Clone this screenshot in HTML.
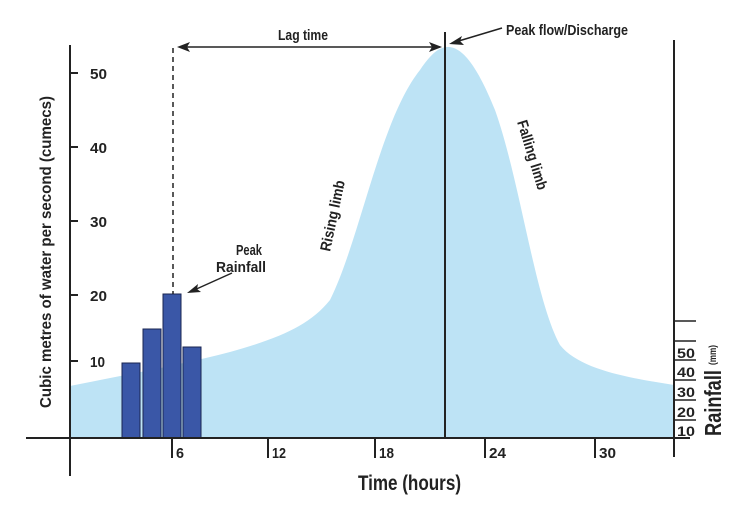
<!DOCTYPE html>
<html><head><meta charset="utf-8"><style>
html,body{margin:0;padding:0;background:#fff;}
svg text{font-family:"Liberation Sans Narrow","Liberation Sans",sans-serif;font-weight:bold;fill:#222;}
</style></head><body>
<svg width="750" height="500" viewBox="0 0 750 500" xmlns="http://www.w3.org/2000/svg">
<path d="M70,386 C120,376 180,365 230,352 C280,338 310,325 330,300 C360,240 380,120 420,70 C432,52 440,47 448,47 C460,47 475,60 495,110 C520,180 535,300 560,345 C580,370 630,378 674,385 L674,438 L70,438 Z" fill="#bde3f5"/>
<g fill="#3a57a7" stroke="#1a2550" stroke-width="1">
<rect x="122" y="363" width="18" height="75"/>
<rect x="143" y="329" width="18" height="109"/>
<rect x="163" y="294" width="18" height="144"/>
<rect x="183" y="347" width="18" height="91"/>
</g>
<g stroke="#222" stroke-width="2" fill="none">
<line x1="70" y1="45" x2="70" y2="476"/>
<line x1="26" y1="438" x2="690" y2="438"/>
<line x1="674" y1="40" x2="674" y2="457"/>
<line x1="445" y1="32" x2="445" y2="438"/>
<line x1="70" y1="73" x2="78" y2="73"/><line x1="70" y1="147" x2="78" y2="147"/>
<line x1="70" y1="221" x2="78" y2="221"/><line x1="70" y1="295" x2="78" y2="295"/>
<line x1="70" y1="361" x2="78" y2="361"/>
<line x1="172" y1="438" x2="172" y2="458"/><line x1="268" y1="438" x2="268" y2="458"/>
<line x1="375" y1="438" x2="375" y2="458"/><line x1="485" y1="438" x2="485" y2="458"/>
<line x1="595" y1="438" x2="595" y2="458"/>
</g>
<g stroke="#222" stroke-width="1.5">
<line x1="674" y1="321" x2="696" y2="321"/><line x1="674" y1="341" x2="696" y2="341"/>
<line x1="674" y1="360" x2="696" y2="360"/><line x1="674" y1="380" x2="696" y2="380"/>
<line x1="674" y1="400" x2="696" y2="400"/><line x1="674" y1="420" x2="696" y2="420"/>
<line x1="173" y1="48" x2="173" y2="294" stroke-dasharray="5,4"/>
<line x1="180" y1="47" x2="440" y2="47"/>
<line x1="452" y1="43" x2="502" y2="28"/>
<line x1="192" y1="291" x2="232" y2="273"/>
</g>
<g fill="#222">
<polygon points="177,47 190,42 187,47 190,52"/>
<polygon points="442,47 429,42 432,47 429,52"/>
<polygon points="449,44 462,36 460,41 464,45"/>
<polygon points="187,293 198,284 197,289 201,292"/>
</g>
<g font-size="15" lengthAdjust="spacingAndGlyphs">
<text x="90" y="79" textLength="17" lengthAdjust="spacingAndGlyphs">50</text>
<text x="90" y="153" textLength="17" lengthAdjust="spacingAndGlyphs">40</text>
<text x="90" y="227" textLength="17" lengthAdjust="spacingAndGlyphs">30</text>
<text x="90" y="301" textLength="17" lengthAdjust="spacingAndGlyphs">20</text>
<text x="90" y="367" textLength="15" lengthAdjust="spacingAndGlyphs">10</text>
<text x="176" y="458" textLength="8" lengthAdjust="spacingAndGlyphs">6</text>
<text x="272" y="458" textLength="14" lengthAdjust="spacingAndGlyphs">12</text>
<text x="379" y="458" textLength="15" lengthAdjust="spacingAndGlyphs">18</text>
<text x="489" y="458" textLength="17" lengthAdjust="spacingAndGlyphs">24</text>
<text x="599" y="458" textLength="17" lengthAdjust="spacingAndGlyphs">30</text>
<text x="278" y="40" textLength="50" lengthAdjust="spacingAndGlyphs">Lag time</text>
<text x="506" y="35" textLength="122" lengthAdjust="spacingAndGlyphs">Peak flow/Discharge</text>
<text x="236" y="255" textLength="26" lengthAdjust="spacingAndGlyphs">Peak</text>
<text x="216" y="272" textLength="50" lengthAdjust="spacingAndGlyphs">Rainfall</text>
</g>
<g font-size="14">
<text x="677" y="358" textLength="18" lengthAdjust="spacingAndGlyphs">50</text>
<text x="677" y="377" textLength="18" lengthAdjust="spacingAndGlyphs">40</text>
<text x="677" y="397" textLength="18" lengthAdjust="spacingAndGlyphs">30</text>
<text x="677" y="417" textLength="18" lengthAdjust="spacingAndGlyphs">20</text>
<text x="677" y="436" textLength="18" lengthAdjust="spacingAndGlyphs">10</text>
</g>
<text font-size="15" transform="translate(330,252) rotate(-78)" textLength="72" lengthAdjust="spacingAndGlyphs">Rising limb</text>
<text font-size="15" transform="translate(517,122) rotate(73)" textLength="72" lengthAdjust="spacingAndGlyphs">Falling limb</text>
<text font-size="16" transform="translate(51,408) rotate(-90)" textLength="312" lengthAdjust="spacingAndGlyphs">Cubic metres of water per second (cumecs)</text>
<text font-size="21" x="358" y="490" textLength="103" lengthAdjust="spacingAndGlyphs">Time (hours)</text>
<text font-size="23" transform="translate(721,436) rotate(-90)" textLength="66" lengthAdjust="spacingAndGlyphs">Rainfall</text>
<text font-size="10" transform="translate(716,365) rotate(-90)" textLength="20" lengthAdjust="spacingAndGlyphs">(mm)</text>
</svg>
</body></html>
